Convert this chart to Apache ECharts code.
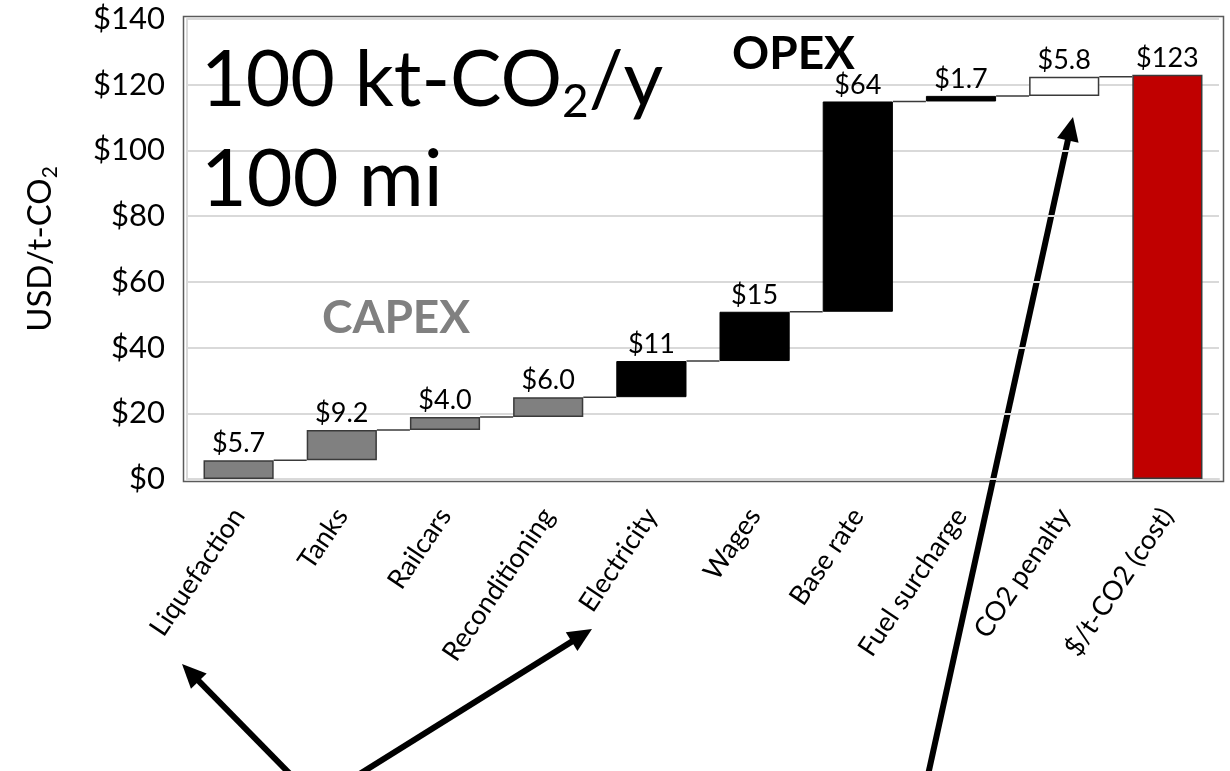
<!DOCTYPE html>
<html>
<head>
<meta charset="utf-8">
<script src="https://cdn.jsdelivr.net/npm/echarts@6/dist/echarts.min.js"></script>
<style>
  html, body { margin: 0; padding: 0; background: #ffffff; }
  #chart { width: 1230px; height: 771px; }
</style>
</head>
<body>
<div id="chart"></div>
<script>
// Cost build-up of rail CO2 transport, USD per tonne CO2
const categories = ['Liquefaction', 'Tanks', 'Railcars', 'Reconditioning', 'Electricity',
  'Wages', 'Base rate', 'Fuel surcharge', 'CO2 penalty', '$/t-CO2 (cost)'];
const stepValues = [5.7, 9.2, 4.0, 6.0, 11, 15, 64, 1.7, 5.8];
const stepGroups = ['capex', 'capex', 'capex', 'capex', 'opex', 'opex', 'opex', 'opex', 'penalty'];
const totalValue = 123;
const valueLabels = ['$5.7', '$9.2', '$4.0', '$6.0', '$11', '$15', '$64', '$1.7', '$5.8', '$123'];
const yMin = 0, yMax = 140, yStep = 20;

const FONT = 'Lato, "Open Sans", "Noto Sans", sans-serif';
const BAR_RATIO = 0.68;

// running start / end of each step
const stepBases = [];
const stepTops = [];
let running = 0;
stepValues.forEach(v => { stepBases.push(running); running += v; stepTops.push(running); });

const groupStyle = {
  capex:   { color: '#808080', borderColor: '#3a3a3a', borderWidth: 1.5 },
  opex:    { color: '#000000', borderColor: '#000000', borderWidth: 1 },
  penalty: { color: '#ffffff', borderColor: '#3a3a3a', borderWidth: 1.5 },
  total:   { color: '#c00000', borderColor: '#3a3a3a', borderWidth: 1.5 }
};

const baseData = stepBases.concat([0]);
const visibleData = stepValues.map((v, i) => ({ value: v, itemStyle: groupStyle[stepGroups[i]] }))
  .concat([{ value: totalValue, itemStyle: groupStyle.total }]);
const connectorData = stepTops.map((t, i) => [i, t]);

function arrow(x1, y1, x2, y2) {
  const dx = x2 - x1, dy = y2 - y1;
  const len = Math.sqrt(dx * dx + dy * dy);
  const ux = dx / len, uy = dy / len;
  const headLen = 24, headHalf = 11;
  const bx = x2 - ux * headLen, by = y2 - uy * headLen;
  return {
    type: 'group',
    z: 20,
    children: [
      { type: 'line', shape: { x1: x1, y1: y1, x2: bx + ux * 2, y2: by + uy * 2 },
        style: { stroke: '#000', lineWidth: 6 } },
      { type: 'polygon',
        shape: { points: [[x2, y2], [bx - uy * headHalf, by + ux * headHalf], [bx + uy * headHalf, by - ux * headHalf]] },
        style: { fill: '#000' } }
    ]
  };
}

const chart = echarts.init(document.getElementById('chart'), null, { renderer: 'canvas' });

chart.setOption({
  animation: false,
  backgroundColor: '#ffffff',
  grid: { left: 187, right: 11, top: 19, bottom: 292, containLabel: false },
  xAxis: {
    type: 'category',
    data: categories,
    axisLine: { show: true, lineStyle: { color: '#d9d9d9', width: 2 } },
    axisTick: { show: false },
    axisLabel: {
      interval: 0, rotate: 56, margin: 32,
      fontFamily: FONT, fontSize: 27, color: '#000'
    }
  },
  yAxis: {
    type: 'value',
    min: yMin, max: yMax, interval: yStep,
    name: '{m|USD/t-CO}{s|2}',
    nameLocation: 'middle',
    nameRotate: 90,
    nameGap: 126,
    nameTextStyle: {
      rich: {
        m: { fontFamily: FONT, fontSize: 33, color: '#000', lineHeight: 42 },
        s: { fontFamily: FONT, fontSize: 21, color: '#000', lineHeight: 20, verticalAlign: 'bottom' }
      }
    },
    axisLine: { show: true, lineStyle: { color: '#d9d9d9', width: 2 } },
    axisTick: { show: false },
    splitLine: { lineStyle: { color: '#d9d9d9', width: 2 } },
    axisLabel: {
      margin: 22,
      fontFamily: FONT, fontSize: 31, color: '#000',
      formatter: v => '$' + v
    }
  },
  series: [
    {
      type: 'bar', stack: 'cost', data: baseData, barWidth: (BAR_RATIO * 100) + '%',
      itemStyle: { color: 'rgba(0,0,0,0)' }, silent: true
    },
    {
      type: 'bar', stack: 'cost', data: visibleData, barWidth: (BAR_RATIO * 100) + '%',
      label: {
        show: true, position: 'top', distance: 3,
        fontFamily: FONT, fontSize: 27, color: '#000',
        formatter: p => valueLabels[p.dataIndex]
      },
      silent: true
    },
    {
      type: 'custom',
      data: connectorData,
      silent: true,
      z: 3,
      renderItem: (params, api) => {
        const i = api.value(0), y = api.value(1);
        const p = api.coord([i, y]);
        const band = api.size([1, 0])[0];
        const half = band * BAR_RATIO / 2;
        return {
          type: 'line',
          shape: { x1: p[0] + half, y1: p[1], x2: p[0] + band - half, y2: p[1] },
          style: { stroke: '#3a3a3a', lineWidth: 1.5 }
        };
      }
    }
  ],
  graphic: [
    { type: 'rect', z: 0, shape: { x: 183.5, y: 16.5, width: 1040, height: 465 },
      style: { fill: 'none', stroke: '#5a5a5a', lineWidth: 1.5 } },
    { type: 'text', x: 201, y: 37, z: 10,
      style: {
        text: '{m|100 kt-CO}{s|2}{m|/y}',
        rich: {
          m: { fontFamily: FONT, fontSize: 77, fill: '#000', lineHeight: 88 },
          s: { fontFamily: FONT, fontSize: 46, fill: '#000', lineHeight: 34, verticalAlign: 'bottom' }
        }
      } },
    { type: 'text', x: 201, y: 137, z: 10,
      style: { text: '100 mi', font: '79px ' + FONT, fill: '#000', lineHeight: 88 } },
    { type: 'text', x: 732, y: 31, z: 10,
      style: { text: 'OPEX', font: 'bold 46px ' + FONT, fill: '#000' } },
    { type: 'text', x: 322, y: 295, z: 10,
      style: { text: 'CAPEX', font: 'bold 46px ' + FONT, fill: '#808080' } },
    arrow(291, 775, 182, 664),
    arrow(358, 775, 592, 629),
    arrow(928, 775, 1073, 117)
  ]
});
</script>
</body>
</html>
